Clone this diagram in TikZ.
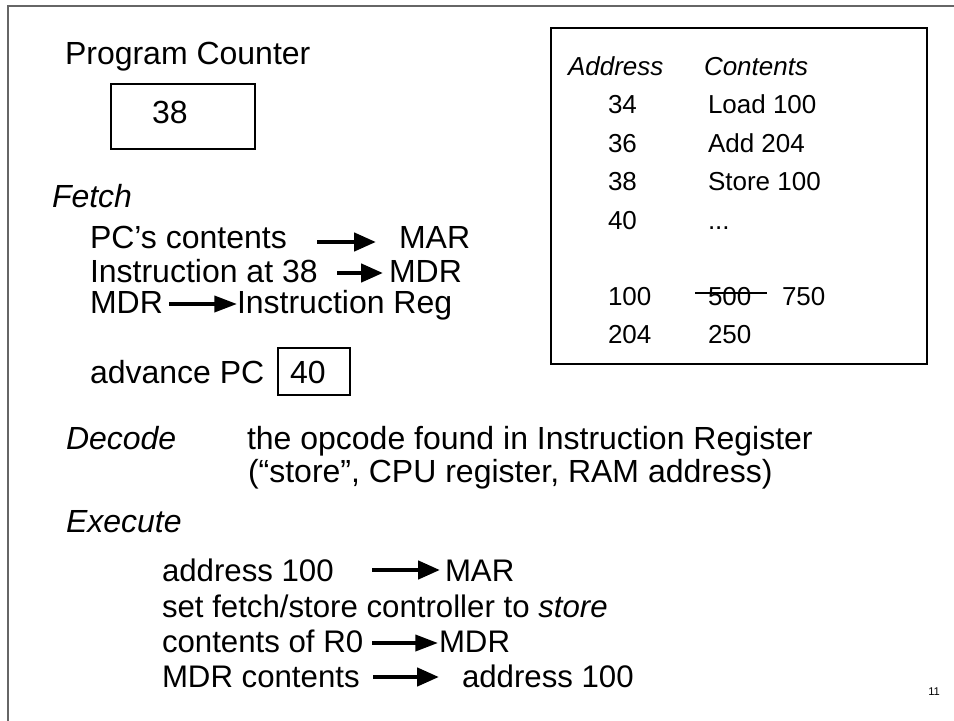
\documentclass[tikz,border=0pt]{standalone}
\usepackage{fontspec}
\setmainfont{Liberation Sans}
\usetikzlibrary{arrows.meta}
\begin{document}
\begin{tikzpicture}[x=0.75pt,y=-0.75pt,
  txt/.style={inner sep=0pt, outer sep=0pt, anchor=base west, font=\fontsize{24}{28}\selectfont},
  etxt/.style={txt, font=\fontsize{23.4}{28}\selectfont},
  lbl/.style={txt, font=\fontsize{24}{28}\selectfont\itshape},
  tab/.style={inner sep=0pt, outer sep=0pt, anchor=base west, font=\fontsize{19.5}{23}\selectfont},
  tabh/.style={tab, font=\fontsize{19.5}{23}\selectfont\itshape},
  regbox/.style={draw=black, line width=1.1pt, inner sep=0pt},
  frameline/.style={draw=black!60, line width=1.5pt},
  bigarrow/.style={line width=3.4pt, -{Triangle[length=16.5pt,width=13.5pt]}},
  thinarrow/.style={line width=2.8pt, -{Triangle[length=17pt,width=12pt]}},
  strike/.style={line width=2.2pt}
]
\useasboundingbox (0,0) rectangle (954,721);
% slide frame
\draw[frameline] (8,721) -- (8,6) -- (954,6);

% Program counter
\node[txt] (pclabel) at (65,64) {Program Counter};
\node[regbox, minimum width=108pt, minimum height=48.75pt] (pcbox) at (183,116.5) {};
\node[txt] (pcval) at (152,123) {38};

% Fetch
\node[lbl] (fetch) at (52,207) {Fetch};
\node[txt] (f1a) at (90,248) {PC’s contents};
\node[txt] (f1b) at (399,248) {MAR};
\coordinate (f1s) at (317,242); \coordinate (f1e) at (376,242);
\draw[bigarrow] (f1s) -- (f1e);

\node[txt] (f2a) at (90,282) {Instruction at 38};
\node[txt] (f2b) at (389,282) {MDR};
\coordinate (f2s) at (337,273); \coordinate (f2e) at (383,273);
\draw[bigarrow] (f2s) -- (f2e);

\node[txt] (f3a) at (90,313) {MDR};
\node[txt] (f3b) at (237,313) {Instruction Reg};
\coordinate (f3s) at (169,304); \coordinate (f3e) at (237,304);
\draw[thinarrow] (f3s) -- (f3e);

\node[txt] (adv) at (90,383) {advance PC};
\node[regbox, minimum width=54pt, minimum height=35.25pt] (pcbox2) at (314,371.5) {};
\node[txt] (pcval2) at (290,383) {40};

% Decode
\node[lbl] (decode) at (66,449) {Decode};
\node[txt] (d1) at (247,449) {the opcode found in Instruction Register};
\node[txt] (d2) at (248,482) {(“store”, CPU register, RAM address)};

% Execute
\node[lbl] (execute) at (66,532) {Execute};
\node[etxt] (e1a) at (162,581) {address 100};
\node[etxt] (e1b) at (445,581) {MAR};
\coordinate (e1s) at (372,570); \coordinate (e1e) at (440,570);
\draw[bigarrow] (e1s) -- (e1e);

\node[etxt] (e2) at (162,617) {set fetch/store controller to \textit{store}};

\node[etxt] (e3a) at (162,652) {contents of R0};
\node[etxt] (e3b) at (439,652) {MDR};
\coordinate (e3s) at (372,643); \coordinate (e3e) at (438,643);
\draw[thinarrow] (e3s) -- (e3e);

\node[etxt] (e4a) at (162,687) {MDR contents};
\node[etxt] (e4b) at (462,687) {address 100};
\coordinate (e4s) at (373,677); \coordinate (e4e) at (439,677);
\draw[bigarrow] (e4s) -- (e4e);

% Memory table
\node[regbox, minimum width=282pt, minimum height=252pt] (membox) at (739,196) {};
\node[tabh] (hAddr) at (568,75) {Address};
\node[tabh] (hCont) at (704,75) {Contents};
\node[tab] (a34) at (608,113) {34};
\node[tab] (c34) at (708,113) {Load 100};
\node[tab] (a36) at (608,152) {36};
\node[tab] (c36) at (708,152) {Add 204};
\node[tab] (a38) at (608,190) {38};
\node[tab] (c38) at (708,190) {Store 100};
\node[tab] (a40) at (608,229) {40};
\node[tab] (c40) at (708,229) {...};
\node[tab] (a100) at (608,305) {100};
\node[tab] (c100) at (708,305) {500};
\node[tab] (c100n) at (782,305) {750};
\node[tab] (a204) at (608,343) {204};
\node[tab] (c204) at (708,343) {250};
\coordinate (sks) at (695,293); \coordinate (ske) at (767,293);
\draw[strike] (sks) -- (ske);

% page number
\node[inner sep=0pt, anchor=base west, font=\fontsize{8.4}{10}\selectfont] (pgnum) at (928,695) {11};
\end{tikzpicture}
\end{document}
